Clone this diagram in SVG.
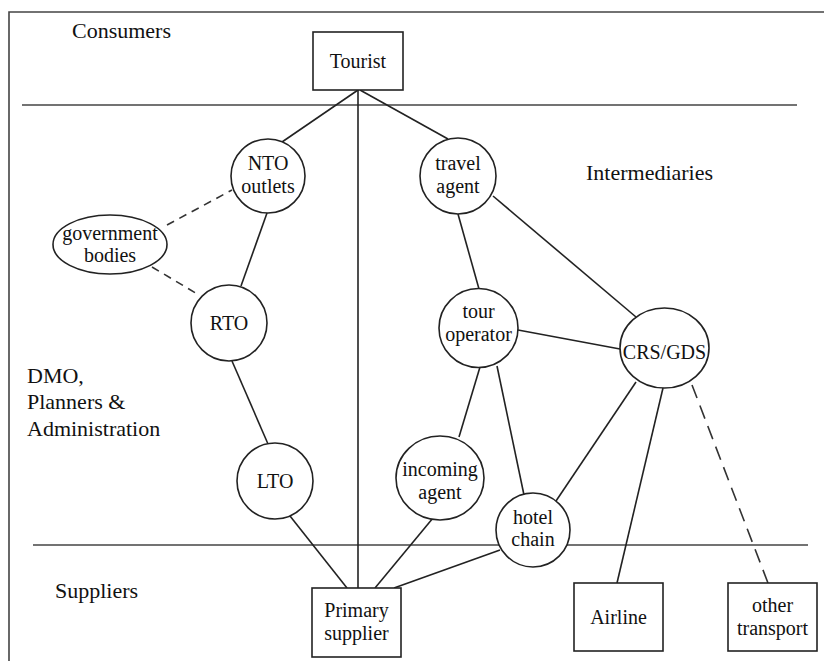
<svg xmlns="http://www.w3.org/2000/svg" width="824" height="661" viewBox="0 0 824 661">
<style>
.t{font-family:"Liberation Serif","Times New Roman",serif;font-size:20px;fill:#111;text-anchor:middle}
.r{font-family:"Liberation Serif","Times New Roman",serif;font-size:22px;fill:#111}
.n{fill:#fff;stroke:#222;stroke-width:1.6}
.c{stroke:#222;stroke-width:1.6;fill:none}
.d{stroke:#333;stroke-width:1.6;fill:none;stroke-dasharray:8 6}
.d2{stroke:#333;stroke-width:1.6;fill:none;stroke-dasharray:14 8}
.f{stroke:#444;stroke-width:1.6;fill:none}
</style>
<rect width="824" height="661" fill="#fff"/>
<g id="frame">
<path class="f" d="M9 661V12H824"/>
<line class="f" x1="22" y1="105" x2="797" y2="105" stroke-width="2"/>
<line class="f" x1="33" y1="545" x2="808" y2="545"/>
</g>
<g id="labels">
<text class="r" x="72" y="38">Consumers</text>
<text class="r" x="586" y="180">Intermediaries</text>
<text class="r" x="27" y="383">DMO,</text>
<text class="r" x="27" y="409">Planners &amp;</text>
<text class="r" x="27" y="436">Administration</text>
<text class="r" x="55" y="598">Suppliers</text>
</g>
<g id="connectors">
<line class="c" x1="358" y1="90" x2="358" y2="588"/>
<line class="c" x1="358" y1="90" x2="282" y2="142"/>
<line class="c" x1="360" y1="90" x2="448" y2="139"/>
<line class="d" x1="167" y1="225" x2="232" y2="190"/>
<line class="d" x1="152" y1="267" x2="199" y2="295"/>
<line class="c" x1="267" y1="213" x2="241" y2="286"/>
<line class="c" x1="232" y1="361" x2="268" y2="444"/>
<line class="c" x1="290" y1="516" x2="347" y2="588"/>
<line class="c" x1="458" y1="214" x2="479" y2="289"/>
<line class="c" x1="493" y1="196" x2="636" y2="317"/>
<line class="c" x1="518" y1="330" x2="620" y2="349"/>
<line class="c" x1="480" y1="367" x2="459" y2="437"/>
<line class="c" x1="497" y1="366" x2="524" y2="495"/>
<line class="c" x1="636" y1="382" x2="556" y2="501"/>
<line class="c" x1="663" y1="388" x2="617" y2="583"/>
<line class="d2" x1="692" y1="385" x2="768" y2="583"/>
<line class="c" x1="433" y1="518" x2="375" y2="588"/>
<line class="c" x1="500" y1="550" x2="394" y2="588"/>
</g>
<g id="tourist"><rect class="n" x="313" y="32" width="90" height="58"/><text class="t" x="358" y="68">Tourist</text></g>
<g id="nto"><circle class="n" cx="268" cy="176" r="37"/><text class="t" x="268" y="170">NTO</text><text class="t" x="268" y="193">outlets</text></g>
<g id="gov"><ellipse class="n" cx="110" cy="244.5" rx="57" ry="29.5"/><text class="t" x="110" y="240">government</text><text class="t" x="110" y="262">bodies</text></g>
<g id="rto"><circle class="n" cx="229" cy="323" r="38"/><text class="t" x="229" y="330">RTO</text></g>
<g id="lto"><circle class="n" cx="275" cy="481" r="38"/><text class="t" x="275" y="488">LTO</text></g>
<g id="travel"><circle class="n" cx="458" cy="176" r="38"/><text class="t" x="458" y="170">travel</text><text class="t" x="458" y="193">agent</text></g>
<g id="tour"><circle class="n" cx="478.5" cy="328" r="39.5"/><text class="t" x="478.5" y="318">tour</text><text class="t" x="478.5" y="341">operator</text></g>
<g id="crs"><ellipse class="n" cx="664.5" cy="348" rx="44.5" ry="40"/><text class="t" x="664.5" y="359">CRS/GDS</text></g>
<g id="incoming"><ellipse class="n" cx="440" cy="478" rx="44" ry="42"/><text class="t" x="440" y="476">incoming</text><text class="t" x="440" y="499">agent</text></g>
<g id="hotel"><circle class="n" cx="533" cy="530" r="37"/><text class="t" x="533" y="524">hotel</text><text class="t" x="533" y="546">chain</text></g>
<g id="primary"><rect class="n" x="312" y="588" width="89" height="69"/><text class="t" x="356.5" y="617">Primary</text><text class="t" x="356.5" y="640">supplier</text></g>
<g id="airline"><rect class="n" x="574" y="583" width="89" height="68"/><text class="t" x="618.5" y="624">Airline</text></g>
<g id="other"><rect class="n" x="728" y="583" width="89" height="68"/><text class="t" x="772.5" y="612">other</text><text class="t" x="772.5" y="635">transport</text></g>
</svg>
